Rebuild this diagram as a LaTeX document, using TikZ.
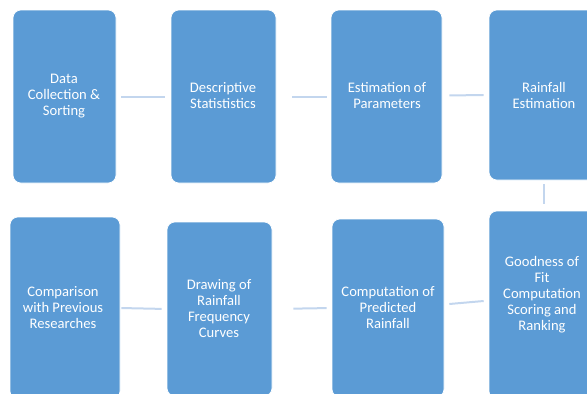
\documentclass[tikz,border=0pt]{standalone}
\usepackage{fontspec}
\setmainfont{Carlito}
\usetikzlibrary{calc}
\definecolor{boxblue}{HTML}{5B9BD5}
\definecolor{linkblue}{HTML}{C3D6EE}
\tikzset{
  box/.style={draw=white, line width=0.6pt, fill=boxblue, rounded corners=8pt, inner sep=0pt},
  txt/.style={text=white, align=center, font=\fontsize{14.6}{16}\selectfont, inner sep=0pt},
  conn/.style={draw=linkblue, line width=2pt}
}
\begin{document}
\begin{tikzpicture}[x=1pt,y=-1pt]
\useasboundingbox (0,0) rectangle (587,394);
\clip (0,0) rectangle (587,394);
% top row
\node[box, minimum width=103pt, minimum height=173pt] (b1) at (64.5,96.5) {};
\node[box, minimum width=105pt, minimum height=173pt] (b2) at (223.5,96.5) {};
\node[box, minimum width=111pt, minimum height=173pt] (b3) at (386.5,96.5) {};
\node[box, minimum width=110pt, minimum height=170pt] (b4) at (544,95) {};
% bottom row
\node[box, minimum width=110pt, minimum height=182pt] (b5) at (65,308) {};
\node[box, minimum width=105pt, minimum height=174pt] (b6) at (219.5,309) {};
\node[box, minimum width=112pt, minimum height=178pt] (b7) at (388,308) {};
\node[box, minimum width=106pt, minimum height=188pt] (b8) at (542,305) {};
% texts
\node[txt] (t1) at (64,96) {Data\\Collection \&\\Sorting};
\node[txt] (t2) at (223,96) {Descriptive\\Statististics};
\node[txt] (t3) at (387,96) {Estimation of\\Parameters};
\node[txt] (t4) at (544,95) {Rainfall\\Estimation};
\node[txt] (t5) at (63,308) {Comparison\\with Previous\\Researches};
\node[txt] (t6) at (219,309) {Drawing of\\Rainfall\\Frequency\\Curves};
\node[txt] (t7) at (388,308) {Computation of\\Predicted\\Rainfall};
\node[txt] (t8) at (542,295) {Goodness of\\Fit\\Computation\\Scoring and\\Ranking};
% connectors
\draw[conn, shorten <=5pt, shorten >=6pt] (b1.east) -- (b2.west);
\draw[conn, shorten <=16pt, shorten >=4pt] (b2.east) -- (b3.west);
\draw[conn, shorten <=7pt, shorten >=5pt] ($(b3.east)+(0,-1)$) -- ($(b4.west)+(0,0)$);
\draw[conn, shorten <=4pt, shorten >=7pt] (b4.south) -- (b4.south |- b8.north);
\draw[conn, shorten <=1pt, shorten >=5pt] (b5.east) -- (b6.west);
\draw[conn, shorten <=21pt, shorten >=5pt] (b6.east) -- (b7.west);
\draw[conn] ($(b7.east)+(5,-4)$) -- ($(b8.west)+(-5,-4)$);
\end{tikzpicture}
\end{document}
